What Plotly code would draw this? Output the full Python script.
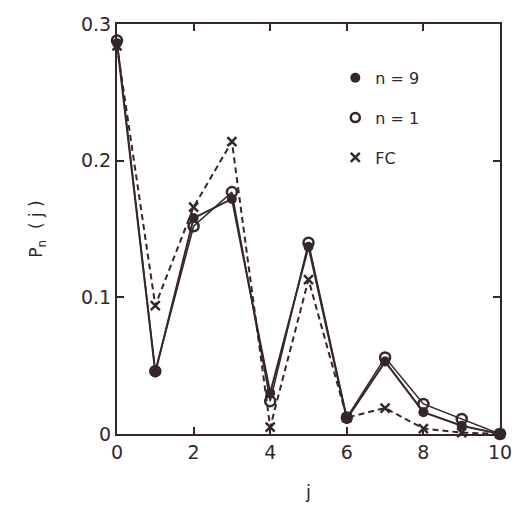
import plotly.graph_objects as go

j = [0, 1, 2, 3, 4, 5, 6, 7, 8, 9, 10]
p_n9 = [0.286, 0.045, 0.158, 0.172, 0.030, 0.137, 0.011, 0.053, 0.016, 0.006, 0.000]
p_n1 = [0.288, 0.046, 0.152, 0.177, 0.024, 0.140, 0.012, 0.056, 0.022, 0.011, 0.000]
p_fc = [0.284, 0.094, 0.166, 0.214, 0.005, 0.113, 0.012, 0.019, 0.004, 0.001, 0.000]

x_ticks = [0, 2, 4, 6, 8, 10]
y_ticks = [0, 0.1, 0.2, 0.3]
y_ticktext = ["0", "0.1", "0.2", "0.3"]

ink = "#34262a"
font = "DejaVu Sans"

fig = go.Figure()
fig.add_trace(go.Scatter(x=j, y=p_fc, mode="lines+markers", cliponaxis=False,
                         line=dict(color=ink, width=2, dash="6px,4px"),
                         marker=dict(symbol="x-thin", size=9, color=ink, line=dict(color=ink, width=2.5)),
                         showlegend=False))
fig.add_trace(go.Scatter(x=j, y=p_n1, mode="lines+markers", cliponaxis=False,
                         line=dict(color=ink, width=1.5),
                         marker=dict(symbol="circle-open", size=10, color=ink, line=dict(color=ink, width=2.5)),
                         showlegend=False))
fig.add_trace(go.Scatter(x=j, y=p_n9, mode="lines+markers", cliponaxis=False,
                         line=dict(color=ink, width=2),
                         marker=dict(symbol="circle", size=10, color=ink),
                         showlegend=False))

# legend entries (markers only, as in the reference)
fig.add_trace(go.Scatter(x=[None], y=[None], mode="markers", name="n = 9", legendgroup="a",
                         marker=dict(symbol="circle", size=10, color=ink)))
fig.add_trace(go.Scatter(x=[None], y=[None], mode="markers", name="n = 1", legendgroup="b",
                         marker=dict(symbol="circle-open", size=9, color=ink, line=dict(color=ink, width=2.5))))
fig.add_trace(go.Scatter(x=[None], y=[None], mode="markers", name="FC", legendgroup="c",
                         marker=dict(symbol="x-thin", size=9, color=ink, line=dict(color=ink, width=2.5))))

axis_common = dict(showline=True, linecolor=ink, linewidth=2, mirror="ticks",
                   ticks="inside", ticklen=7, tickwidth=2, tickcolor=ink,
                   showgrid=False, zeroline=False,
                   tickfont=dict(family=font, size=19, color=ink))

fig.update_xaxes(range=[0, 10], tickvals=x_ticks, ticktext=[str(v) for v in x_ticks],
                 title=dict(text="j", font=dict(family=font, size=18, color=ink), standoff=24),
                 **axis_common)
fig.update_yaxes(range=[0, 0.3], tickvals=y_ticks, ticktext=y_ticktext,
                 title=dict(text="P<sub>n</sub>  ( j )", font=dict(family=font, size=17, color=ink), standoff=34),
                 **axis_common)

fig.update_layout(
    width=523, height=510,
    margin=dict(l=117, r=11, t=24, b=71),
    paper_bgcolor="white", plot_bgcolor="white",
    font=dict(family=font, color=ink),
    legend=dict(x=0.57, y=0.91, xanchor="left", yanchor="top",
                bgcolor="rgba(0,0,0,0)", borderwidth=0,
                traceorder="grouped", tracegroupgap=16,
                font=dict(family=font, size=16, color=ink),
                itemwidth=30),
)

fig.write_html("out.html")
